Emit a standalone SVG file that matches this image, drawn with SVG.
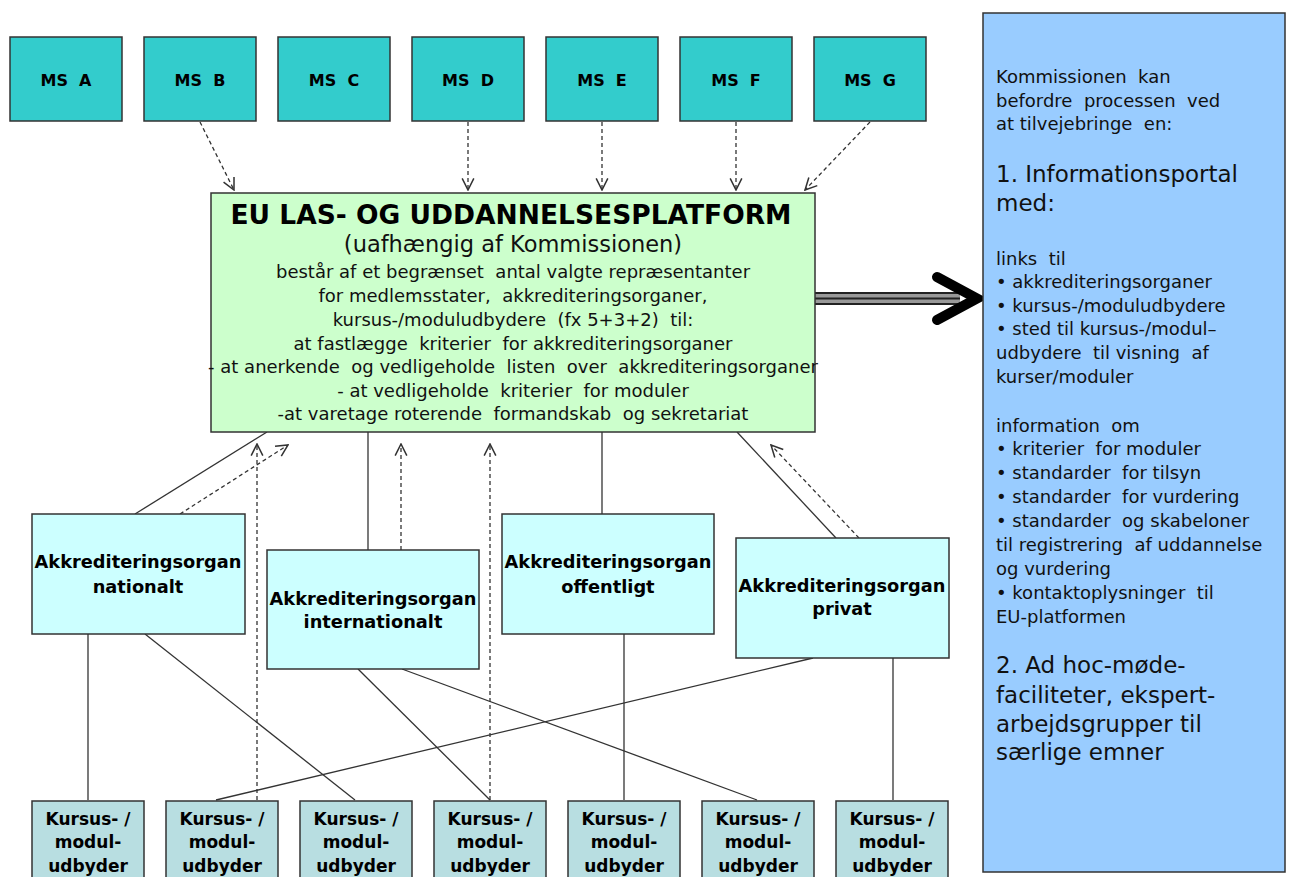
<svg xmlns="http://www.w3.org/2000/svg" width="1291" height="877" viewBox="0 0 1291 877" xml:space="preserve">
<defs>
<marker id="open" markerUnits="userSpaceOnUse" markerWidth="14" markerHeight="14" viewBox="0 0 12 12" refX="11" refY="6" orient="auto">
<path d="M1,1 L11,6 L1,11" fill="none" stroke="#333" stroke-width="1.3"/>
</marker>
</defs>
<style>
.ms{fill:#33CCCC;stroke:#333;stroke-width:1.5}
.akk{fill:#CCFFFF;stroke:#333;stroke-width:1.5}
.kur{fill:#B8DEE1;stroke:#333;stroke-width:1.5}
.eu{fill:#CCFFCC;stroke:#333;stroke-width:1.5}
.info{fill:#99CCFF;stroke:#333;stroke-width:1.5}
text{white-space:pre}
.bt{font-family:"DejaVu Sans",Verdana,sans-serif;font-weight:bold;fill:#000;text-anchor:middle}
.mst{font-size:16px}
.akk-t{font-size:17.8px}
.kur-t{font-size:17px}
.title{font-size:26.5px}
.rt{font-family:"DejaVu Sans",Verdana,sans-serif;fill:#111;font-size:18px}
.rb{font-family:"DejaVu Sans",Verdana,sans-serif;fill:#111;font-size:23px}
.et{font-family:"DejaVu Sans",Verdana,sans-serif;fill:#111;text-anchor:middle;font-size:18px}
.sub{font-size:22.5px}
.solid{fill:none;stroke:#333;stroke-width:1.3}
.dash{fill:none;stroke:#333;stroke-width:1.3;stroke-dasharray:4 3;marker-end:url(#open)}
</style>

<g id="connectors">
<line class="dash" x1="200" y1="122" x2="234" y2="190"/>
<line class="dash" x1="468" y1="122" x2="468" y2="190"/>
<line class="dash" x1="602" y1="122" x2="602" y2="190"/>
<line class="dash" x1="736" y1="122" x2="736" y2="190"/>
<line class="dash" x1="870" y1="122" x2="805" y2="190"/>
<line class="solid" x1="267" y1="432" x2="135" y2="514"/>
<line class="dash" x1="180" y1="514" x2="288" y2="445"/>
<line class="dash" x1="257" y1="800" x2="257" y2="444"/>
<line class="solid" x1="368" y1="432" x2="368" y2="550"/>
<line class="dash" x1="401" y1="550" x2="401" y2="444"/>
<line class="dash" x1="490" y1="800" x2="490" y2="444"/>
<line class="solid" x1="602" y1="432" x2="602" y2="514"/>
<line class="solid" x1="737" y1="432" x2="836" y2="538"/>
<line class="dash" x1="859" y1="538" x2="771" y2="445"/>
<line class="solid" x1="88" y1="634" x2="88" y2="800"/>
<line class="solid" x1="145" y1="634" x2="355" y2="800"/>
<line class="solid" x1="358" y1="669" x2="490" y2="800"/>
<line class="solid" x1="402" y1="669" x2="757" y2="800"/>
<line class="solid" x1="813" y1="658" x2="216" y2="800"/>
<line class="solid" x1="624" y1="634" x2="624" y2="800"/>
<line class="solid" x1="893" y1="658" x2="893" y2="800"/>
<rect x="815" y="292" width="145" height="13" fill="#999"/>
<line x1="815" y1="293" x2="960" y2="293" stroke="#222" stroke-width="2"/>
<line x1="815" y1="298.5" x2="960" y2="298.5" stroke="#222" stroke-width="2"/>
<line x1="815" y1="304" x2="960" y2="304" stroke="#222" stroke-width="2"/>
<path d="M937,277 L977,298.5 L937,320" fill="none" stroke="#000" stroke-width="10" stroke-linecap="round" stroke-linejoin="miter"/>
</g>

<g id="ms-a"><rect class="ms" x="10" y="37" width="112" height="84"/><text class="bt mst" x="66" y="86">MS  A</text></g>
<g id="ms-b"><rect class="ms" x="144" y="37" width="112" height="84"/><text class="bt mst" x="200" y="86">MS  B</text></g>
<g id="ms-c"><rect class="ms" x="278" y="37" width="112" height="84"/><text class="bt mst" x="334" y="86">MS  C</text></g>
<g id="ms-d"><rect class="ms" x="412" y="37" width="112" height="84"/><text class="bt mst" x="468" y="86">MS  D</text></g>
<g id="ms-e"><rect class="ms" x="546" y="37" width="112" height="84"/><text class="bt mst" x="602" y="86">MS  E</text></g>
<g id="ms-f"><rect class="ms" x="680" y="37" width="112" height="84"/><text class="bt mst" x="736" y="86">MS  F</text></g>
<g id="ms-g"><rect class="ms" x="814" y="37" width="112" height="84"/><text class="bt mst" x="870" y="86">MS  G</text></g>

<g id="eu-platform">
<rect class="eu" x="211" y="193" width="604" height="239"/>
<text class="bt title" x="511" y="224">EU LAS- OG UDDANNELSESPLATFORM</text>
<text class="et sub" x="513" y="252">(uafhængig af Kommissionen)</text>
<text class="et" x="513" y="278">består af et begrænset  antal valgte repræsentanter</text>
<text class="et" x="513" y="302">for medlemsstater,  akkrediteringsorganer,</text>
<text class="et" x="513" y="326">kursus-/moduludbydere  (fx 5+3+2)  til:</text>
<text class="et" x="513" y="350">at fastlægge  kriterier  for akkrediteringsorganer</text>
<text class="et" x="513" y="373">- at anerkende  og vedligeholde  listen  over  akkrediteringsorganer</text>
<text class="et" x="513" y="397">- at vedligeholde  kriterier  for moduler</text>
<text class="et" x="513" y="420">-at varetage roterende  formandskab  og sekretariat</text>
</g>

<g id="info-box">
<rect class="info" x="983" y="13" width="302" height="859"/>
<text class="rt" x="996" y="83">Kommissionen  kan</text>
<text class="rt" x="996" y="107">befordre  processen  ved</text>
<text class="rt" x="996" y="130">at tilvejebringe  en:</text>
<text class="rb" x="996" y="182">1. Informationsportal</text>
<text class="rb" x="996" y="211">med:</text>
<text class="rt" x="996" y="265">links  til</text>
<text class="rt" x="996" y="288">• akkrediteringsorganer</text>
<text class="rt" x="996" y="312">• kursus-/moduludbydere</text>
<text class="rt" x="996" y="335">• sted til kursus-/modul–</text>
<text class="rt" x="996" y="359">udbydere  til visning  af</text>
<text class="rt" x="996" y="383">kurser/moduler</text>
<text class="rt" x="996" y="432">information  om</text>
<text class="rt" x="996" y="455">• kriterier  for moduler</text>
<text class="rt" x="996" y="479">• standarder  for tilsyn</text>
<text class="rt" x="996" y="503">• standarder  for vurdering</text>
<text class="rt" x="996" y="527">• standarder  og skabeloner</text>
<text class="rt" x="996" y="551">til registrering  af uddannelse</text>
<text class="rt" x="996" y="575">og vurdering</text>
<text class="rt" x="996" y="599">• kontaktoplysninger  til</text>
<text class="rt" x="996" y="623">EU-platformen</text>
<text class="rb" x="996" y="673">2. Ad hoc-møde-</text>
<text class="rb" x="996" y="703">faciliteter, ekspert-</text>
<text class="rb" x="996" y="732">arbejdsgrupper til</text>
<text class="rb" x="996" y="760">særlige emner</text>
</g>

<g id="akk-nationalt"><rect class="akk" x="32" y="514" width="213" height="120"/>
<text class="bt akk-t" x="138" y="568">Akkrediteringsorgan</text><text class="bt akk-t" x="138" y="593">nationalt</text></g>
<g id="akk-internationalt"><rect class="akk" x="267" y="550" width="212" height="119"/>
<text class="bt akk-t" x="373" y="605">Akkrediteringsorgan</text><text class="bt akk-t" x="373" y="628">internationalt</text></g>
<g id="akk-offentligt"><rect class="akk" x="502" y="514" width="212" height="120"/>
<text class="bt akk-t" x="608" y="568">Akkrediteringsorgan</text><text class="bt akk-t" x="608" y="593">offentligt</text></g>
<g id="akk-privat"><rect class="akk" x="736" y="538" width="213" height="120"/>
<text class="bt akk-t" x="842" y="592">Akkrediteringsorgan</text><text class="bt akk-t" x="842" y="615">privat</text></g>

<g id="kursus-1"><rect class="kur" x="32" y="801" width="112" height="90"/><text class="bt kur-t" x="88" y="825">Kursus- /</text><text class="bt kur-t" x="88" y="848">modul-</text><text class="bt kur-t" x="88" y="872">udbyder</text></g>
<g id="kursus-2"><rect class="kur" x="166" y="801" width="112" height="90"/><text class="bt kur-t" x="222" y="825">Kursus- /</text><text class="bt kur-t" x="222" y="848">modul-</text><text class="bt kur-t" x="222" y="872">udbyder</text></g>
<g id="kursus-3"><rect class="kur" x="300" y="801" width="112" height="90"/><text class="bt kur-t" x="356" y="825">Kursus- /</text><text class="bt kur-t" x="356" y="848">modul-</text><text class="bt kur-t" x="356" y="872">udbyder</text></g>
<g id="kursus-4"><rect class="kur" x="434" y="801" width="112" height="90"/><text class="bt kur-t" x="490" y="825">Kursus- /</text><text class="bt kur-t" x="490" y="848">modul-</text><text class="bt kur-t" x="490" y="872">udbyder</text></g>
<g id="kursus-5"><rect class="kur" x="568" y="801" width="112" height="90"/><text class="bt kur-t" x="624" y="825">Kursus- /</text><text class="bt kur-t" x="624" y="848">modul-</text><text class="bt kur-t" x="624" y="872">udbyder</text></g>
<g id="kursus-6"><rect class="kur" x="702" y="801" width="112" height="90"/><text class="bt kur-t" x="758" y="825">Kursus- /</text><text class="bt kur-t" x="758" y="848">modul-</text><text class="bt kur-t" x="758" y="872">udbyder</text></g>
<g id="kursus-7"><rect class="kur" x="836" y="801" width="112" height="90"/><text class="bt kur-t" x="892" y="825">Kursus- /</text><text class="bt kur-t" x="892" y="848">modul-</text><text class="bt kur-t" x="892" y="872">udbyder</text></g>
</svg>
